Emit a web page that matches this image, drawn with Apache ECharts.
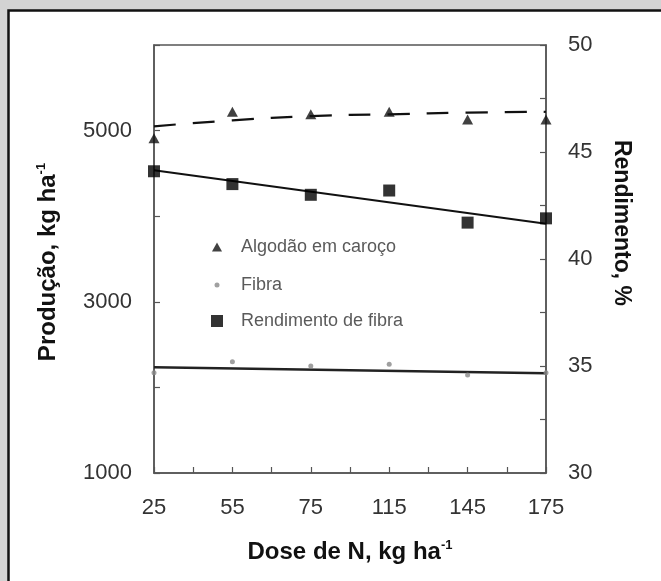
<!DOCTYPE html>
<html>
<head>
<meta charset="utf-8">
<script src="https://cdn.jsdelivr.net/npm/echarts@6/dist/echarts.min.js"></script>
<style>
  html, body { margin: 0; padding: 0; background: #d3d3d3; }
  #chart { width: 661px; height: 581px; }
</style>
</head>
<body>
<div id="chart"></div>
<script>
// Nitrogen dose (kg/ha) on the x axis
const doses = ['25', '55', '75', '115', '145', '175'];
// Seed cotton yield, kg/ha (left axis)
const algodao = [4910, 5220, 5190, 5220, 5130, 5130];
// Lint (fibre) yield, kg/ha (left axis)
const fibra = [2170, 2300, 2250, 2270, 2145, 2170];
// Lint percentage, % (right axis)
const rendimento = [44.1, 43.5, 43.0, 43.2, 41.7, 41.9];
// Fitted curves
const algodaoFit = [5050, 5120, 5170, 5190, 5210, 5220];
const fibraFit = [2235, 2165];          // at the first and last dose
const rendimentoFit = [44.15, 41.65];   // at the first and last dose
// Labelled ticks
const leftLabels = [1000, 3000, 5000];
const rightLabels = [30, 35, 40, 45, 50];

const FONT = '"Liberation Sans", Arial, Helvetica, sans-serif';
const AXIS_COLOR = '#555';

const pts = arr => arr.map((v, i) => [i, v]);
const ends = arr => [[0, arr[0]], [doses.length - 1, arr[1]]];

const chart = echarts.init(document.getElementById('chart'), null, { renderer: 'canvas' });

function legendItem(name, icon, w, h, top) {
  return {
    data: [{ name: name, icon: icon }],
    left: 212 - w / 2,
    top: top - 11,
    itemWidth: w,
    itemHeight: h,
    selectedMode: false,
    textStyle: { fontFamily: FONT, fontSize: 18, color: '#5a5a5a', padding: [0, 0, 0, 14 - (w - 10) / 2] }
  };
}

chart.setOption({
  backgroundColor: '#d3d3d3',
  animation: false,
  graphic: [
    { type: 'rect', z: -10, shape: { x: 8.5, y: 10.5, width: 700, height: 700 },
      style: { fill: '#ffffff', stroke: '#111', lineWidth: 2.5 } },
    { type: 'text', x: 48, y: 262, rotation: Math.PI / 2,
      style: { text: '{t|Produção, kg ha}{s|-1}', align: 'center', verticalAlign: 'middle',
        rich: { t: { fontFamily: FONT, fontSize: 24, fontWeight: 'bold', fill: '#111', lineHeight: 26 },
                s: { fontFamily: FONT, fontSize: 13, fontWeight: 'bold', fill: '#111', verticalAlign: 'top', lineHeight: 26 } } } },
    { type: 'text', x: 621, y: 223, rotation: -Math.PI / 2,
      style: { text: 'Rendimento, %', align: 'center', verticalAlign: 'middle',
        fontFamily: FONT, fontSize: 23, fontWeight: 'bold', fill: '#111' } },
    { type: 'text', x: 350, y: 552,
      style: { text: '{t|Dose de N, kg ha}{s|-1}', align: 'center', verticalAlign: 'middle',
        rich: { t: { fontFamily: FONT, fontSize: 24, fontWeight: 'bold', fill: '#111', lineHeight: 26 },
                s: { fontFamily: FONT, fontSize: 13, fontWeight: 'bold', fill: '#111', verticalAlign: 'top', lineHeight: 26 } } } }
  ],
  legend: [
    legendItem('Algodão em caroço', 'triangle', 10, 9, 244),
    legendItem('Fibra', 'circle', 5, 5, 282),
    legendItem('Rendimento de fibra', 'rect', 12, 12, 318)
  ],
  grid: { left: 154, right: 115, top: 45, bottom: 108, show: true,
          borderColor: AXIS_COLOR, borderWidth: 1.5, backgroundColor: 'transparent' },
  xAxis: {
    type: 'value', min: 0, max: doses.length - 1, interval: 1,
    axisLine: { show: true, lineStyle: { color: AXIS_COLOR, width: 1.5 } },
    axisTick: { show: true, inside: true, length: 6, lineStyle: { color: AXIS_COLOR, width: 1.2 } },
    minorTick: { show: true, splitNumber: 2, length: 6, lineStyle: { color: AXIS_COLOR, width: 1.2 } },
    splitLine: { show: false },
    axisLabel: { margin: 24, fontFamily: FONT, fontSize: 22, color: '#333',
                 formatter: v => doses[v] || '' }
  },
  yAxis: [
    {
      type: 'value', position: 'left', min: 1000, max: 6000, interval: 1000,
      axisLine: { show: true, lineStyle: { color: AXIS_COLOR, width: 1.5 } },
      axisTick: { show: true, inside: true, length: 6, lineStyle: { color: AXIS_COLOR, width: 1.2 } },
      splitLine: { show: false },
      axisLabel: { margin: 22, fontFamily: FONT, fontSize: 22, color: '#333',
                   formatter: v => leftLabels.includes(v) ? String(v) : '' }
    },
    {
      type: 'value', position: 'right', min: 30, max: 50, interval: 2.5,
      axisLine: { show: true, lineStyle: { color: AXIS_COLOR, width: 1.5 } },
      axisTick: { show: true, inside: true, length: 6, lineStyle: { color: AXIS_COLOR, width: 1.2 } },
      splitLine: { show: false },
      axisLabel: { margin: 22, fontFamily: FONT, fontSize: 22, color: '#333',
                   formatter: v => rightLabels.includes(v) ? String(v) : '' }
    }
  ],
  series: [
    { name: 'Algodão em caroço fit', type: 'line', yAxisIndex: 0, data: pts(algodaoFit), smooth: true,
      showSymbol: false, lineStyle: { color: '#111', width: 2.2, type: [22, 17] }, z: 2 },
    { name: 'Fibra fit', type: 'line', yAxisIndex: 0, data: ends(fibraFit),
      showSymbol: false, lineStyle: { color: '#222', width: 2.6 }, z: 2 },
    { name: 'Rendimento de fibra fit', type: 'line', yAxisIndex: 1, data: ends(rendimentoFit),
      showSymbol: false, lineStyle: { color: '#111', width: 2 }, z: 2 },
    { name: 'Algodão em caroço', type: 'scatter', yAxisIndex: 0, data: pts(algodao),
      symbol: 'triangle', symbolSize: [11, 10], itemStyle: { color: '#111' }, z: 3 },
    { name: 'Fibra', type: 'scatter', yAxisIndex: 0, data: pts(fibra),
      symbol: 'circle', symbolSize: 5, itemStyle: { color: '#888' }, z: 3 },
    { name: 'Rendimento de fibra', type: 'scatter', yAxisIndex: 1, data: pts(rendimento),
      symbol: 'rect', symbolSize: 12, itemStyle: { color: '#000' }, z: 3 }
  ]
});
</script>
</body>
</html>
